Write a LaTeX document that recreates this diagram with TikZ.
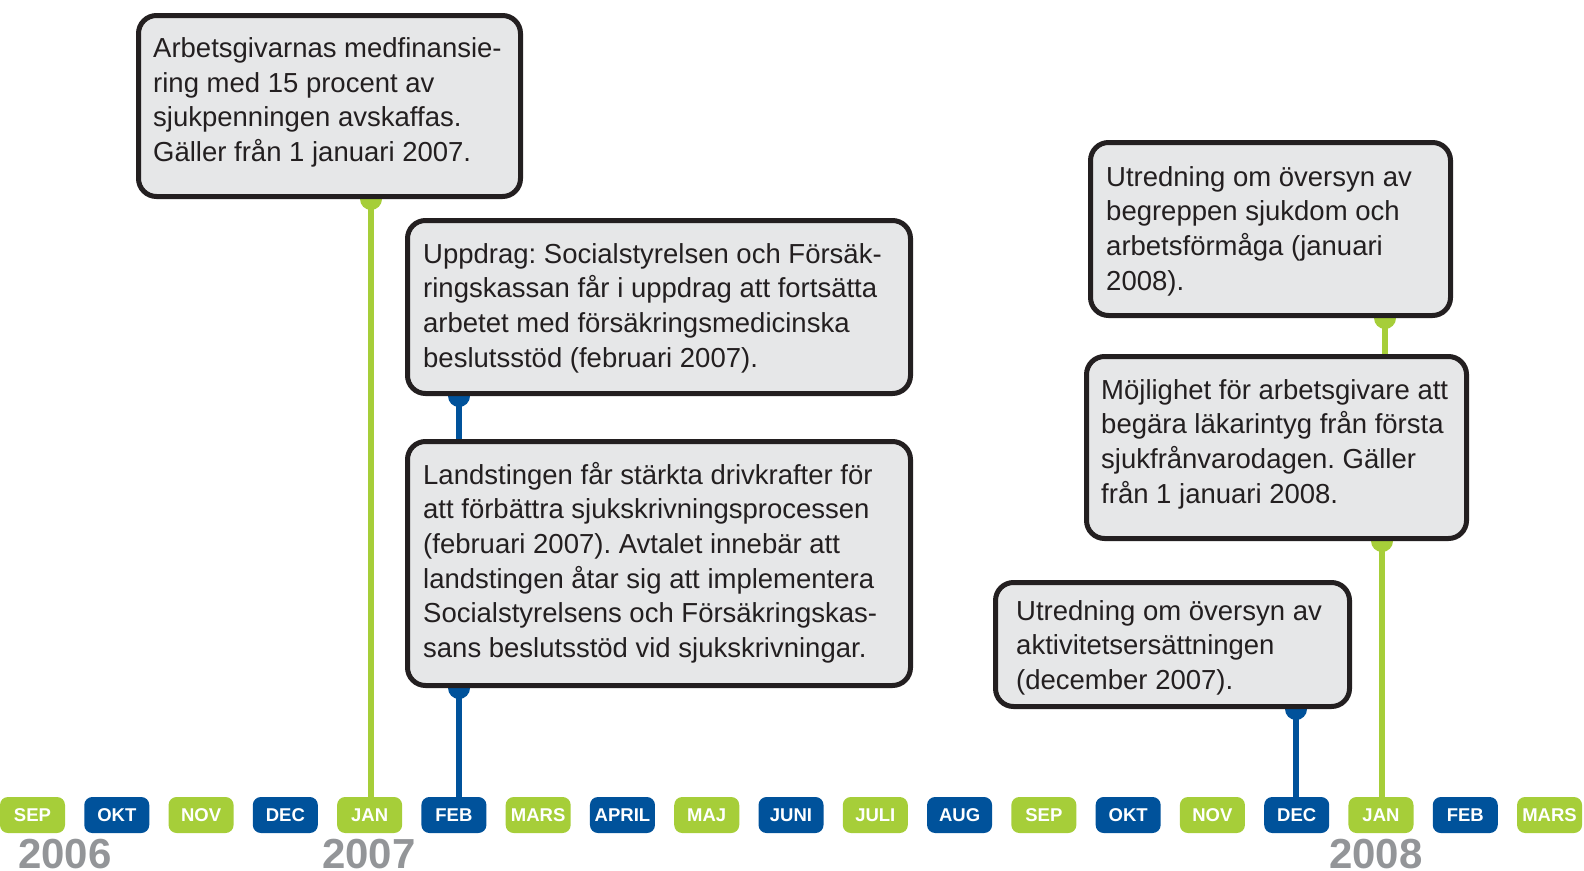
\documentclass[tikz,border=0pt]{standalone}
\usepackage{fontspec}
\setmainfont{Liberation Sans}
\frenchspacing
\pgfdeclarelayer{background}
\pgfsetlayers{background,main}
\definecolor{lgreen}{HTML}{A6CE39}
\definecolor{dblue}{HTML}{00529B}
\definecolor{boxfill}{HTML}{E6E7E8}
\definecolor{boxline}{HTML}{231F20}
\definecolor{yeargray}{HTML}{939598}
\tikzset{
  box/.style={draw=boxline, fill=boxfill, line width=5pt, rounded corners=18pt, inner sep=0pt},
  txt/.style={inner sep=0pt, anchor=base west, text=boxline, font=\frenchspacing\fontsize{27.5}{34.7}\selectfont},
  pill/.style={rounded corners=8pt, minimum width=65pt, minimum height=36pt, inner sep=0pt,
    text=white, font=\bfseries\fontsize{18.5}{18.5}\selectfont, text height=13.2pt, text depth=0pt},
  conn/.style={line width=6.5pt},
  year/.style={inner sep=0pt, anchor=base west, text=yeargray, text height=30pt, text depth=0pt, font=\bfseries\fontsize{42}{42}\selectfont}
}
\begin{document}
\begin{tikzpicture}[x=1pt, y=-1pt]
\useasboundingbox (0,0) rectangle (1584,870);
% boxes
\node[box, minimum width=382pt, minimum height=181pt] (b1) at (329.5,106) {};
\node[box, minimum width=503pt, minimum height=173pt] (b2) at (659,307) {};
\node[box, minimum width=503pt, minimum height=244pt] (b3) at (659,563.5) {};
\node[box, minimum width=360pt, minimum height=173pt] (b4) at (1270.5,229) {};
\node[box, minimum width=380pt, minimum height=182pt] (b5) at (1276.5,447.5) {};
\node[box, minimum width=354pt, minimum height=124pt] (b6) at (1172.5,644.5) {};
% texts
\node[txt] (t1) at (153,57.5) {\parbox[t]{400pt}{Arbetsgivarnas medfinansie-\\ring med 15 procent av\\sjukpenningen avskaffas.\\Gäller från 1 januari 2007.}};
\node[txt] (t2) at (423,263) {\parbox[t]{500pt}{Uppdrag: Socialstyrelsen och Försäk-\\ringskassan får i uppdrag att fortsätta\\arbetet med försäkringsmedicinska\\beslutsstöd (februari 2007).}};
\node[txt] (t3) at (423,484) {\parbox[t]{500pt}{Landstingen får stärkta drivkrafter för\\att förbättra sjukskrivningsprocessen\\(februari 2007). Avtalet innebär att\\landstingen åtar sig att implementera\\Socialstyrelsens och Försäkringskas-\\sans beslutsstöd vid sjukskrivningar.}};
\node[txt] (t4) at (1106,186) {\parbox[t]{400pt}{Utredning om översyn av\\begreppen sjukdom och\\arbetsförmåga (januari\\2008).}};
\node[txt] (t5) at (1101,399) {\parbox[t]{400pt}{Möjlighet för arbetsgivare att\\begära läkarintyg från första\\sjukfrånvarodagen. Gäller\\från 1 januari 2008.}};
\node[txt] (t6) at (1016,620) {\parbox[t]{400pt}{Utredning om översyn av\\aktivitetsersättningen\\(december 2007).}};
% month pills
\foreach \m [count=\i] in {SEP,OKT,NOV,DEC,JAN,FEB,MARS,APRIL,MAJ,JUNI,JULI,AUG,SEP,OKT,NOV,DEC,JAN,FEB,MARS} {
  \pgfmathtruncatemacro\odd{mod(\i,2)}
  \ifnum\odd=1 \def\pc{lgreen}\else\def\pc{dblue}\fi
  \node[pill, fill=\pc] (m\i) at ({32.5+(\i-1)*84.28},815) {\m};
}
% years
\node[year] (y1) at (18,868) {2006};
\node[year] (y2) at (322,868) {2007};
\node[year] (y3) at (1329,868) {2008};
% connector positions
\coordinate (p1) at (371,0);
\coordinate (p2) at (459,0);
\coordinate (p3) at (1296,0);
\coordinate (p4) at (1385,0);
\coordinate (p5) at (1382,0);
\begin{pgfonlayer}{background}
\draw[conn, lgreen] (b1.south -| p1) -- (m5.north -| p1);
\fill[lgreen] (b1.south -| p1) circle (11pt);
\draw[conn, dblue] (b2.south -| p2) -- (b3.north -| p2);
\fill[dblue] (b2.south -| p2) circle (11pt);
\draw[conn, dblue] (b3.south -| p2) -- (m6.north -| p2);
\fill[dblue] (b3.south -| p2) circle (11pt);
\draw[conn, dblue] (b6.south -| p3) -- (m16.north -| p3);
\fill[dblue] (b6.south -| p3) circle (11pt);
\draw[conn, lgreen] (b4.south -| p4) -- (b5.north -| p4);
\fill[lgreen] (b4.south -| p4) circle (11pt);
\draw[conn, lgreen] (b5.south -| p5) -- (m17.north -| p5);
\fill[lgreen] (b5.south -| p5) circle (11pt);
\end{pgfonlayer}
\end{tikzpicture}
\end{document}
